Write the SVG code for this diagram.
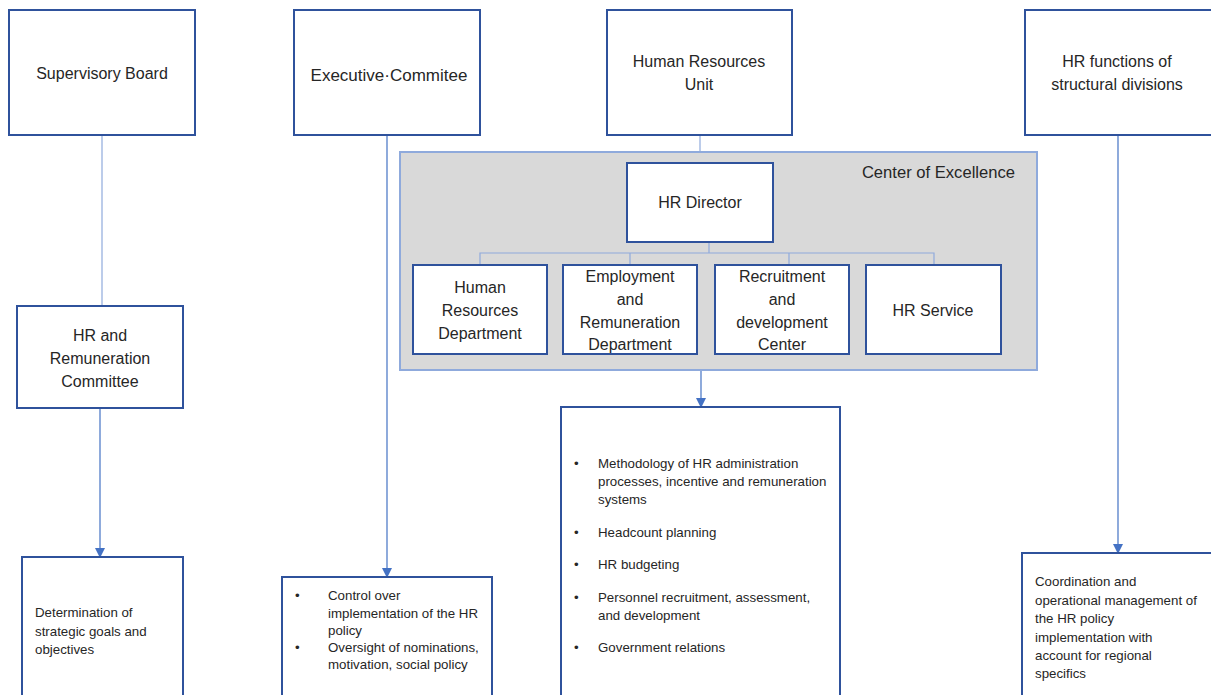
<svg xmlns="http://www.w3.org/2000/svg" width="1211" height="695" viewBox="0 0 1211 695">
<style>
.box{fill:#fff;stroke:#2f529c;stroke-width:2}
.t{font-family:"Liberation Sans",Arial,sans-serif;font-size:16px;fill:#262626;text-anchor:middle}
.s{font-family:"Liberation Sans",Arial,sans-serif;font-size:13.3px;fill:#262626}
.ln{stroke:#8faadc;stroke-width:1.2;fill:none}
.ar{stroke:#4472c4;stroke-width:1.2;fill:none;marker-end:url(#ah)}
</style>
<defs>
<marker id="ah" markerWidth="10" markerHeight="10" refX="9" refY="5" orient="auto" markerUnits="userSpaceOnUse">
<path d="M0,0 L10,5 L0,10 z" fill="#4472c4"/>
</marker>
</defs>
<rect width="1211" height="695" fill="#fff"/>
<g id="center-of-excellence">
<rect x="400" y="152" width="637" height="218" fill="#d9d9d9" stroke="#8faadc" stroke-width="2"/>
<text class="t" x="1015" y="178" style="text-anchor:end;font-size:16.6px">Center of Excellence</text>
</g>
<g id="connectors">
<line class="ln" x1="102" y1="136" x2="102" y2="306"/>
<line class="ar" x1="100" y1="408" x2="100" y2="557"/>
<line class="ar" x1="387" y1="136" x2="387" y2="577"/>
<line class="ln" x1="700" y1="136" x2="700" y2="152"/>
<line class="ar" x1="701" y1="371" x2="701" y2="407"/>
<line class="ar" x1="1118" y1="136" x2="1118" y2="553"/>
<path class="ln" d="M709,243 V253 M480,265 V253 H934 V265 M630,253 V265 M789,253 V265"/>
</g>
<g id="supervisory-board">
<rect class="box" x="9" y="10" width="186" height="125"/>
<text class="t" x="102" y="79">Supervisory Board</text>
</g>
<g id="executive-committee">
<rect class="box" x="294" y="10" width="186" height="125"/>
<text class="t" x="389" y="81" style="font-size:17px">Executive·Commitee</text>
</g>
<g id="human-resources-unit">
<rect class="box" x="607" y="10" width="185" height="125"/>
<text class="t" x="699" y="67">Human Resources</text>
<text class="t" x="699" y="90">Unit</text>
</g>
<g id="hr-functions">
<rect class="box" x="1025" y="10" width="190" height="125"/>
<text class="t" x="1117" y="67">HR functions of</text>
<text class="t" x="1117" y="90">structural divisions</text>
</g>
<g id="hr-director">
<rect class="box" x="627" y="163" width="146" height="79"/>
<text class="t" x="700" y="208">HR Director</text>
</g>
<g id="hr-department">
<rect class="box" x="413" y="265" width="134" height="89"/>
<text class="t" x="480" y="293">Human</text>
<text class="t" x="480" y="316">Resources</text>
<text class="t" x="480" y="339">Department</text>
</g>
<g id="employment-department">
<rect class="box" x="563" y="265" width="134" height="89"/>
<text class="t" x="630" y="282">Employment</text>
<text class="t" x="630" y="305">and</text>
<text class="t" x="630" y="328">Remuneration</text>
<text class="t" x="630" y="350">Department</text>
</g>
<g id="recruitment-center">
<rect class="box" x="715" y="265" width="134" height="89"/>
<text class="t" x="782" y="282">Recruitment</text>
<text class="t" x="782" y="305">and</text>
<text class="t" x="782" y="328">development</text>
<text class="t" x="782" y="350">Center</text>
</g>
<g id="hr-service">
<rect class="box" x="866" y="265" width="135" height="89"/>
<text class="t" x="933" y="316">HR Service</text>
</g>
<g id="hr-remuneration-committee">
<rect class="box" x="17" y="306" width="166" height="102"/>
<text class="t" x="100" y="341">HR and</text>
<text class="t" x="100" y="364">Remuneration</text>
<text class="t" x="100" y="387">Committee</text>
</g>
<g id="strategic-goals">
<rect class="box" x="22" y="557" width="161" height="150"/>
<text class="s" x="35" y="617">Determination of</text>
<text class="s" x="35" y="636">strategic goals and</text>
<text class="s" x="35" y="654">objectives</text>
</g>
<g id="control-box">
<rect class="box" x="282" y="577" width="210" height="130"/>
<text class="s" x="295" y="600">•</text>
<text class="s" x="328" y="600">Control over</text>
<text class="s" x="328" y="618">implementation of the HR</text>
<text class="s" x="328" y="635">policy</text>
<text class="s" x="295" y="652">•</text>
<text class="s" x="328" y="652">Oversight of nominations,</text>
<text class="s" x="328" y="669">motivation, social policy</text>
</g>
<g id="methodology-box">
<rect class="box" x="561" y="407" width="279" height="300"/>
<text class="s" x="574" y="468">•</text>
<text class="s" x="598" y="468">Methodology of HR administration</text>
<text class="s" x="598" y="486">processes, incentive and remuneration</text>
<text class="s" x="598" y="504">systems</text>
<text class="s" x="574" y="537">•</text>
<text class="s" x="598" y="537">Headcount planning</text>
<text class="s" x="574" y="569">•</text>
<text class="s" x="598" y="569">HR budgeting</text>
<text class="s" x="574" y="602">•</text>
<text class="s" x="598" y="602">Personnel recruitment, assessment,</text>
<text class="s" x="598" y="620">and development</text>
<text class="s" x="574" y="652">•</text>
<text class="s" x="598" y="652">Government relations</text>
</g>
<g id="coordination-box">
<rect class="box" x="1022" y="553" width="195" height="160"/>
<text class="s" x="1035" y="586">Coordination and</text>
<text class="s" x="1035" y="605">operational management of</text>
<text class="s" x="1035" y="623">the HR policy</text>
<text class="s" x="1035" y="642">implementation with</text>
<text class="s" x="1035" y="660">account for regional</text>
<text class="s" x="1035" y="678">specifics</text>
</g>
</svg>
